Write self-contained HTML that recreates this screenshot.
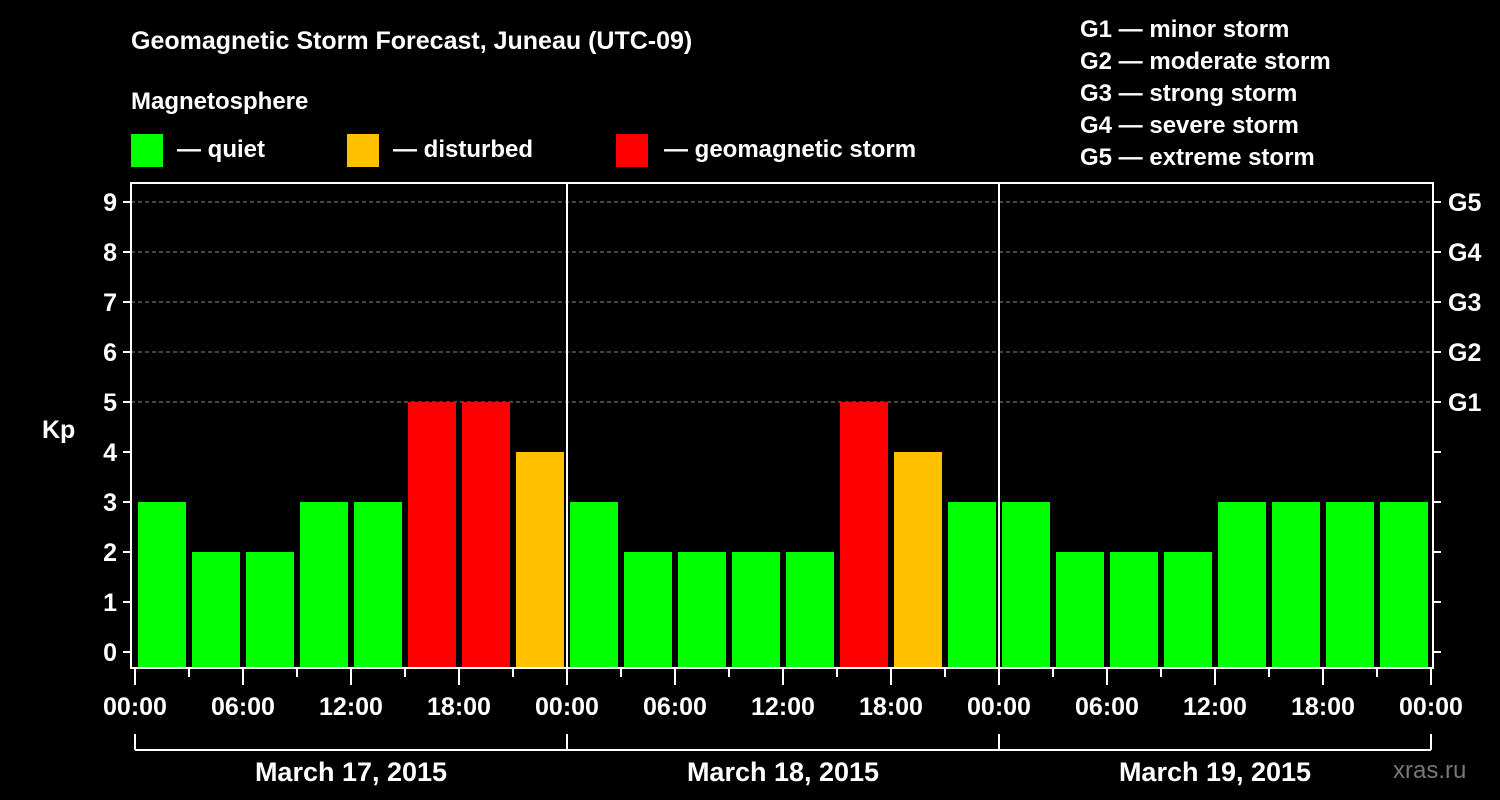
<!DOCTYPE html>
<html><head><meta charset="utf-8"><style>
body{margin:0;background:#000;}
svg{display:block;font-family:"Liberation Sans",Arial,sans-serif;font-weight:bold;}
</style></head><body>
<svg id="chart" width="1500" height="800" viewBox="0 0 1500 800">
<rect x="0" y="0" width="1500" height="800" fill="#000"/>
<text x="131" y="49" fill="#fff" font-size="25">Geomagnetic Storm Forecast, Juneau (UTC-09)</text>
<text x="131" y="109" fill="#fff" font-size="24">Magnetosphere</text>
<g><rect x="131" y="134" width="32" height="33" fill="#00ff00"/><text x="177" y="157" fill="#fff" font-size="24">— quiet</text></g>
<g><rect x="347" y="134" width="32" height="33" fill="#ffc000"/><text x="393" y="157" fill="#fff" font-size="24">— disturbed</text></g>
<g><rect x="616" y="134" width="32" height="33" fill="#ff0000"/><text x="664" y="157" fill="#fff" font-size="24">— geomagnetic storm</text></g>
<g fill="#fff" font-size="24">
<text x="1080" y="37">G1 — minor storm</text>
<text x="1080" y="69">G2 — moderate storm</text>
<text x="1080" y="101">G3 — strong storm</text>
<text x="1080" y="133">G4 — severe storm</text>
<text x="1080" y="165">G5 — extreme storm</text>
</g>
<text x="42" y="438" fill="#fff" font-size="25">Kp</text>
<text x="1393" y="778" fill="#777" font-size="24" font-weight="normal">xras.ru</text>
<g id="grid"></g><g id="bars"></g><g id="axes"></g>
</svg>
<script>
const days = ["March 17, 2015","March 18, 2015","March 19, 2015"];
const hourLabels = ["00:00","06:00","12:00","18:00"];
const kpValues = [3,2,2,3,3,5,5,4, 3,2,2,2,2,5,4,3, 3,2,2,2,3,3,3,3];
const yTicks = [0,1,2,3,4,5,6,7,8,9];
const gLabels = ["G1","G2","G3","G4","G5"];
const gLevels = [5,6,7,8,9];

const NS="http://www.w3.org/2000/svg";
const X0=135, SLOT=54, Y0=652, UNIT=50, BOTTOM=668, TOP=183, LEFT=131, RIGHT=1433;
const xAt=i=>X0+i*SLOT;
const yAt=v=>Y0-v*UNIT;
function mk(tag,parent,attrs){const e=document.createElementNS(NS,tag);for(const k in attrs)e.setAttribute(k,attrs[k]);parent.appendChild(e);return e;}
const grid=document.getElementById('grid'),bars=document.getElementById('bars'),axes=document.getElementById('axes');

yTicks.forEach(v=>{
  if(v>=5){const l=mk('line',grid,{x1:LEFT,x2:RIGHT,y1:yAt(v),y2:yAt(v),stroke:'#888','stroke-dasharray':'4,3','stroke-width':1});
  
  }
  const t=mk('line',axes,{x1:LEFT-8,x2:LEFT,y1:yAt(v),y2:yAt(v),stroke:'#fff','stroke-width':2});
  
  
  const t2=mk('line',axes,{x1:RIGHT,x2:RIGHT+8,y1:yAt(v),y2:yAt(v),stroke:'#fff','stroke-width':2});
  
  
  const tx=mk('text',axes,{x:LEFT-14,y:yAt(v)+9,fill:'#fff','font-size':25,'text-anchor':'end'});tx.textContent=v;
  
  
});
gLabels.forEach((g,i)=>{
  const tx=mk('text',axes,{x:1448,y:yAt(gLevels[i])+9,fill:'#fff','font-size':25});tx.textContent=g;
  
  
});
kpValues.forEach((v,i)=>{
  const c=v>=5?'#ff0000':(v>=4?'#ffc000':'#00ff00');
  const b=mk('rect',bars,{x:xAt(i)+3,y:yAt(v),width:SLOT-6,height:BOTTOM-yAt(v),fill:c});
  
  
});
// frame
const f=mk('path',axes,{d:`M${LEFT} ${TOP}H${RIGHT}V${BOTTOM}H${LEFT}Z`,fill:'none',stroke:'#fff','stroke-width':2});


for(let d=1;d<days.length;d++){
  const l=mk('line',axes,{x1:xAt(d*8),x2:xAt(d*8),y1:TOP,y2:BOTTOM,stroke:'#fff','stroke-width':2});
  
  
}
for(let i=0;i<=days.length*8;i++){
  const major=i%2===0;
  const t=mk('line',axes,{x1:xAt(i),x2:xAt(i),y1:BOTTOM,y2:BOTTOM+(major?17:9),stroke:'#fff','stroke-width':2});
  
  
  if(major){
    const tx=mk('text',axes,{x:xAt(i),y:715,fill:'#fff','font-size':25,'text-anchor':'middle'});
    tx.textContent=hourLabels[(i/2)%4];
    
    
  }
}
const br=mk('line',axes,{x1:xAt(0),x2:xAt(days.length*8),y1:750,y2:750,stroke:'#fff','stroke-width':2});


for(let d=0;d<=days.length;d++){
  const l=mk('line',axes,{x1:xAt(d*8),x2:xAt(d*8),y1:734,y2:750,stroke:'#fff','stroke-width':2});
  
  
}
days.forEach((d,i)=>{
  const tx=mk('text',axes,{x:xAt(i*8+4),y:781,fill:'#fff','font-size':27,'text-anchor':'middle'});
  tx.textContent=d;
  
  
});
</script>
</body></html>
